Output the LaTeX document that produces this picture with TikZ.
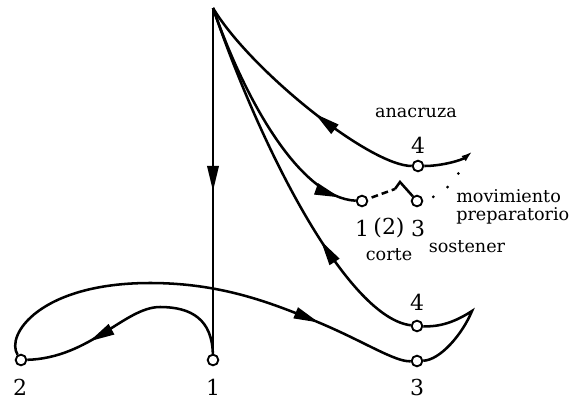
\documentclass[tikz,border=0pt]{standalone}
\usepackage{fontspec}
\setmainfont{DejaVu Serif}
\usetikzlibrary{arrows.meta, positioning, decorations.markings}
\tikzstyle{beat} = [circle, draw=black, fill=white, line width=1.4pt, minimum size=8pt, inner sep=0pt]
\tikzstyle{trace} = [line width=1.9pt, black]
\tikzstyle{lbl} = [inner sep=0pt, font=\fontsize{13.2}{13.6}\selectfont]
\tikzstyle{num} = [inner sep=0pt, font=\fontsize{16.5}{18}\selectfont]
\tikzset{midarrow/.style={postaction={decorate}, decoration={markings, mark=at position #1 with {\arrow{Triangle[length=19pt,width=8.5pt]}}}}}

\begin{document}
\begin{tikzpicture}[x=0.75pt, y=-0.75pt]
    \useasboundingbox (0,0) rectangle (572,401);
    % apex and beat points
    \coordinate (top) at (213,8);
    \node (b1) [beat] at (213,360) {};
    \node (b2) [beat] at (21,360) {};
    \node (b3) [beat] at (417,361) {};
    \node (b4) [beat] at (417,326) {};
    \node (a4) [beat] at (418,166) {};
    \node (c1) [beat] at (362,201) {};
    \node (c3) [beat] at (417,201) {};
    \coordinate (peak) at (160,307);
    \coordinate (arc) at (150,283);
    \coordinate (low) at (320,323);
    \coordinate (cusp) at (472,311);
    \coordinate (kink) at (395,189);
    \coordinate (hook) at (400,182);
    \coordinate (ana) at (473,151);
    \coordinate (dotend) at (461,169);

    % labels
    \node [num] at (213,387) {1};
    \node [num] at (20,387) {2};
    \node [num] at (417,387) {3};
    \node [num] at (417,302) {4};
    \node [num] at (418,145) {4};
    \node [lbl] at (416,113) {anacruza};
    \node [num] at (362,228) {1};
    \node [num] at (389,228) {(2)};
    \node [num] at (418,228) {3};
    \node [lbl] at (389,255) {corte};
    \node [lbl] at (467,247) {sostener};
    \node [lbl, anchor=west, align=left] at (456,207) {movimiento\\preparatorio};

    % trajectories
    \draw [trace, midarrow=0.53] (top) -- (b1);
    \draw [trace, midarrow=0.71] (b1) .. controls (212,320) and (192,307) .. (peak)
        .. controls (125,307) and (90,358) .. (b2);
    \draw [trace, midarrow=0.775] (b2) .. controls (5,335) and (40,283) .. (arc)
        .. controls (220,283) and (270,302) .. (low)
        .. controls (365,342) and (395,362) .. (b3);
    \draw [trace] (b3) .. controls (440,360) and (462,335) .. (cusp)
        .. controls (455,322) and (440,327) .. (b4);
    \draw [trace, midarrow=0.33] (b4) .. controls (350,318) and (265,160) .. (top);
    \draw [trace, midarrow=0.935] (top) .. controls (245,100) and (300,198) .. (c1);
    \draw [trace, midarrow=0.43] (a4) .. controls (370,166) and (250,70) .. (top);
    \draw [trace, -{Latex[length=9pt,width=5pt]}] (a4) .. controls (442,166) and (462,160) .. (ana);
    \draw [trace, dash pattern=on 5pt off 3pt, dash phase=5pt] (c1) -- (kink);
    \draw [trace] (kink) -- (hook) -- (c3);
    \draw [line width=2.3pt, line cap=round, dash pattern=on 0pt off 13pt, dash phase=5pt] (c3) .. controls (440,197) and (452,185) .. (dotend);
\end{tikzpicture}
\end{document}
